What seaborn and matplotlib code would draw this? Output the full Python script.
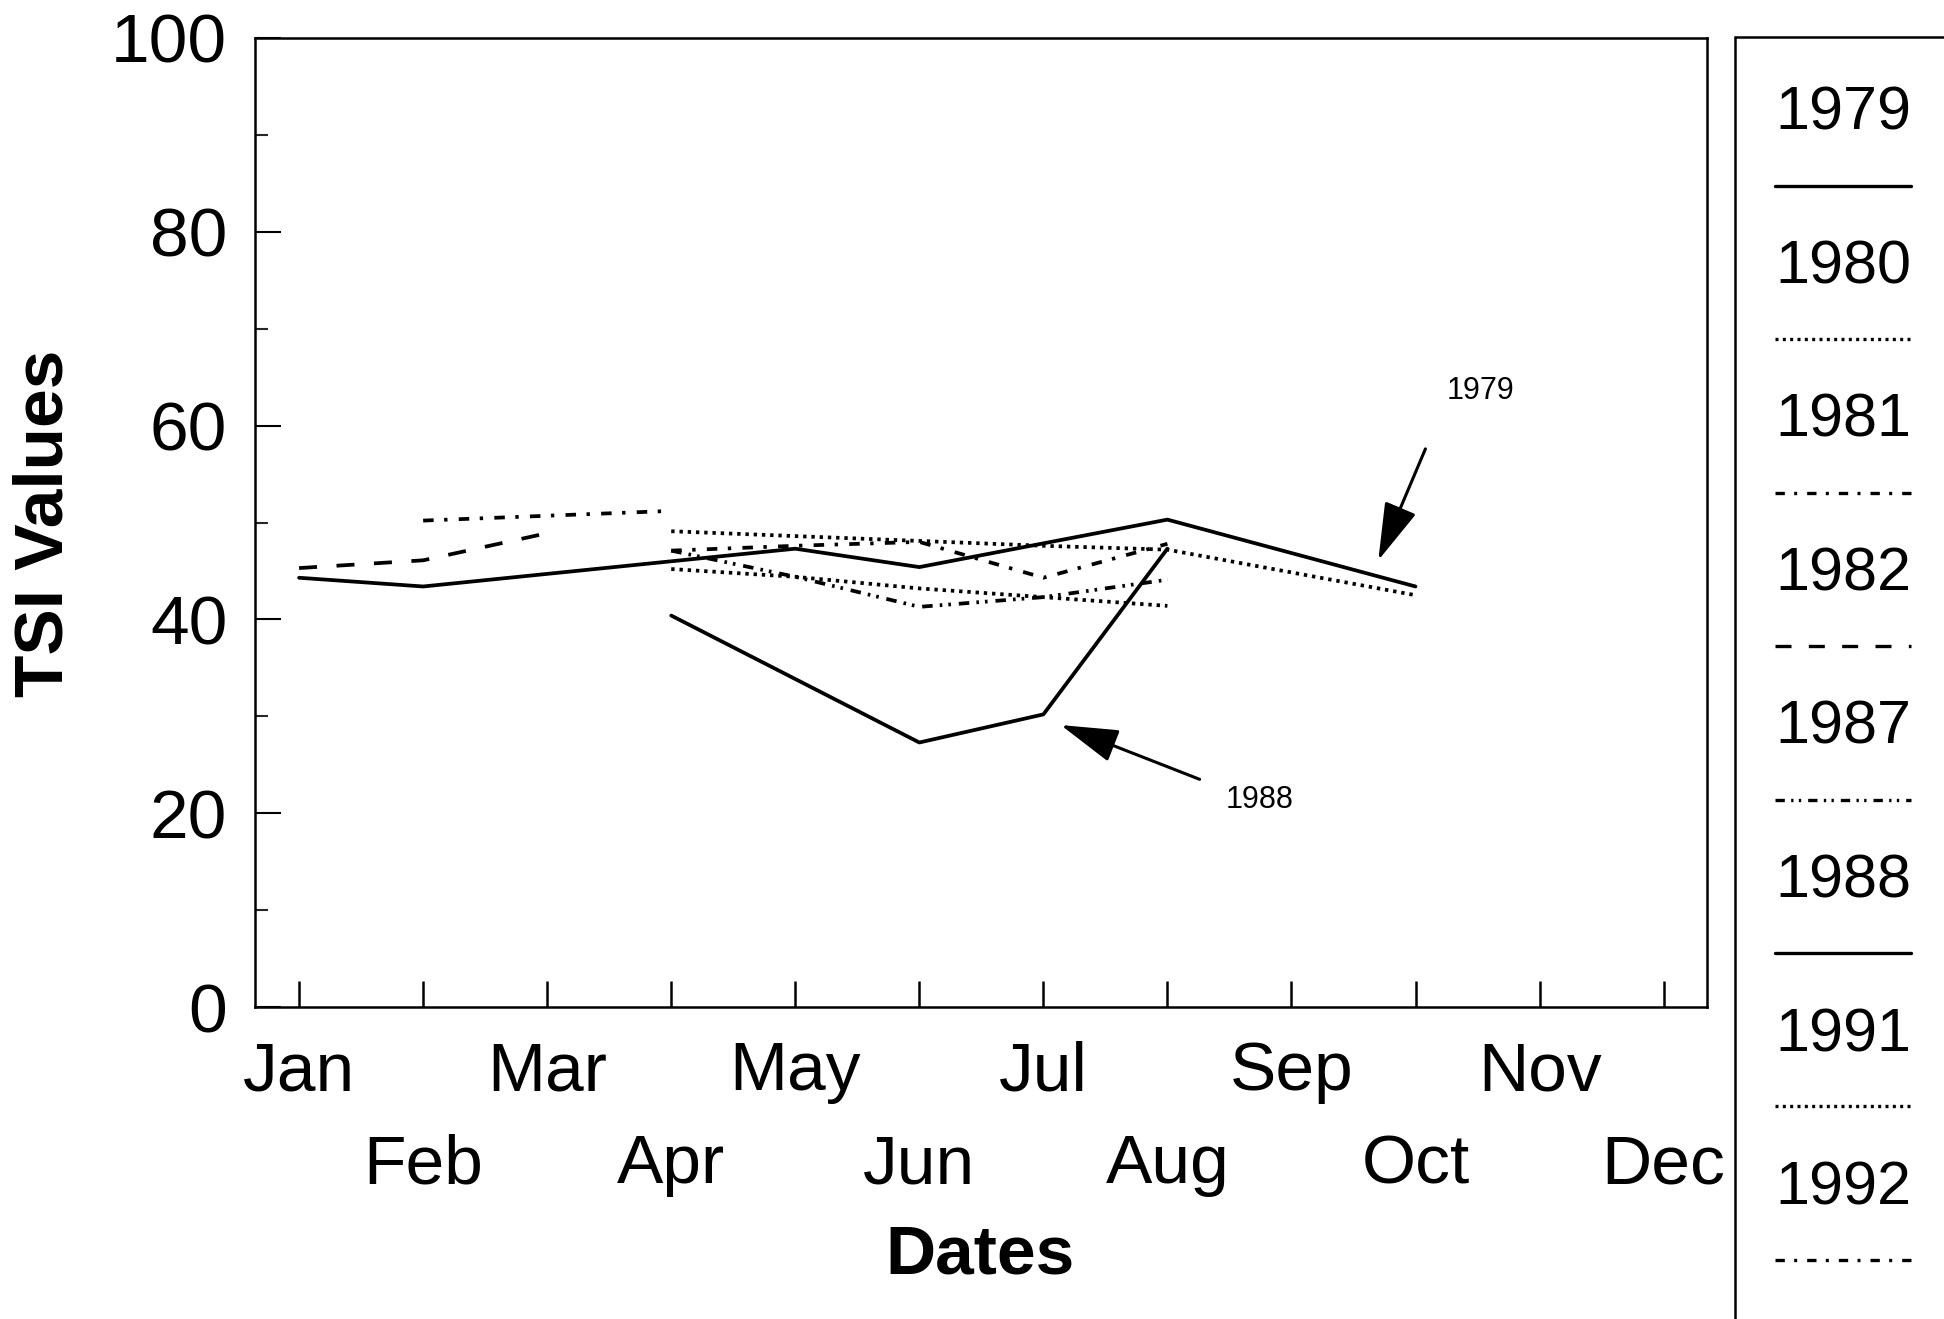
import numpy as np
import pandas as pd
import matplotlib
matplotlib.use("Agg")
import matplotlib.pyplot as plt
from matplotlib.lines import Line2D
import seaborn as sns

# =========================================
# DATA
# =========================================

months = ["Jan", "Feb", "Mar", "Apr", "May", "Jun",
          "Jul", "Aug", "Sep", "Oct", "Nov", "Dec"]

nan = np.nan

tsi_1979 = [44.3, 43.4, nan, nan, 47.3, 45.4, nan, 50.3, nan, 43.4, nan, nan]
tsi_1980 = [nan, nan, nan, 49.1, 48.6, 48.1, 47.6, 47.2, nan, 42.5, nan, nan]
tsi_1981 = [nan, 50.2, 50.7, 51.2, nan, nan, nan, nan, nan, nan, nan, nan]
tsi_1982 = [45.3, 46.1, 48.9, nan, nan, nan, nan, nan, nan, nan, nan, nan]
tsi_1987 = [nan, nan, nan, 47.1, 44.4, 41.3, 42.3, 44.1, nan, nan, nan, nan]
tsi_1988 = [nan, nan, nan, 40.4, nan, 27.3, 30.2, 47.3, nan, nan, nan, nan]
tsi_1991 = [nan, nan, nan, 45.2, 44.4, 43.2, 42.3, 41.4, nan, nan, nan, nan]
tsi_1992 = [nan, nan, nan, 47.1, 47.6, 48.0, 44.3, 47.8, nan, nan, nan, nan]

years = ["1979", "1980", "1981", "1982", "1987", "1988", "1991", "1992"]
series = [tsi_1979, tsi_1980, tsi_1981, tsi_1982,
          tsi_1987, tsi_1988, tsi_1991, tsi_1992]

# line styles per year (dash patterns, scaled by linewidth)
dash_styles = {
    "1979": "",
    "1980": (0.9, 1.3),
    "1981": (2.8, 2.8, 0.9, 3.0),
    "1982": (4.8, 5.2),
    "1987": (2.8, 1.9, 0.7, 1.6, 0.7, 2.1),
    "1988": "",
    "1991": (0.9, 1.3),
    "1992": (2.8, 2.8, 0.9, 3.0),
}

rows = []
for year, vals in zip(years, series):
    for m, v in enumerate(vals, start=1):
        rows.append({"year": year, "month": m, "tsi": v})
df = pd.DataFrame(rows).dropna()

# =========================================
# STYLE
# =========================================

sns.set_style("white")
plt.rcParams["font.family"] = ["Liberation Sans", "DejaVu Sans"]
plt.rcParams["text.color"] = "black"
plt.rcParams["xtick.bottom"] = True
plt.rcParams["ytick.left"] = True

fig = plt.figure(figsize=(19.44, 13.19), dpi=100)
ax = fig.add_axes([0.1312, 0.2365, 0.7469, 0.7347])

# =========================================
# LINES
# =========================================

sns.lineplot(
    data=df,
    x="month",
    y="tsi",
    style="year",
    style_order=years,
    dashes=dash_styles,
    color="black",
    linewidth=2.7,
    errorbar=None,
    legend=False,
    ax=ax
)

# =========================================
# AXES
# =========================================

ax.set_xlim(0.645, 12.35)
ax.set_ylim(0, 100)

ax.set_yticks(range(0, 101, 20))
ax.set_yticks(range(10, 100, 20), minor=True)
ax.set_yticklabels([str(v) for v in range(0, 101, 20)], fontsize=50)

odd = list(range(1, 13, 2))
even = list(range(2, 13, 2))
ax.set_xticks(odd)
ax.set_xticklabels([months[i - 1] for i in odd], fontsize=50)
ax.set_xticks(even, minor=True)
ax.set_xticklabels([months[i - 1] for i in even], minor=True, fontsize=50)

ax.tick_params(axis="y", which="major", direction="in", length=19,
               width=1.5, pad=20, colors="black", left=True)
ax.tick_params(axis="y", which="minor", direction="in", length=9,
               width=1.5, left=True)
ax.tick_params(axis="x", which="major", direction="in", length=19,
               width=1.8, pad=24, colors="black", bottom=True)
ax.tick_params(axis="x", which="minor", direction="in", length=19,
               width=1.8, pad=91, colors="black", bottom=True)

for sp in ax.spines.values():
    sp.set_visible(True)
    sp.set_linewidth(1.8)
    sp.set_color("black")

ax.set_xlabel("")
ax.set_ylabel("")

fig.text(0.504, 0.048, "Dates", fontsize=50, fontweight="bold",
         ha="center", va="center")
fig.text(0.023, 0.603, "TSI Values", fontsize=50, fontweight="bold",
         ha="center", va="center", rotation=90)

# =========================================
# ANNOTATIONS
# =========================================

arrow = dict(arrowstyle="-|>,head_length=1.2,head_width=0.35",
             mutation_scale=30, lw=2.2, color="black",
             shrinkA=0, shrinkB=0)

ax.annotate("", xy=(9.70, 46.1), xytext=(10.08, 57.6), arrowprops=arrow)
ax.text(10.52, 63.6, "1979", fontsize=22, ha="center", va="center")

ax.annotate("", xy=(7.14, 29.1), xytext=(8.26, 23.5), arrowprops=arrow)
ax.text(8.74, 21.4, "1988", fontsize=22, ha="center", va="center")

# =========================================
# LEGEND BOX (separate panel on the right)
# =========================================

W, H = 1944.0, 1319.0
box_left = 1735 / W
box_top = 1 - 37 / H
fig.add_artist(Line2D([box_left, box_left], [0, box_top], color="black",
                      lw=1.8, transform=fig.transFigure))
fig.add_artist(Line2D([box_left, 1.0], [box_top, box_top], color="black",
                      lw=1.8, transform=fig.transFigure))

for i, year in enumerate(years):
    ty = 1 - (114 + i * 153.6) / H
    ly = 1 - (186 + i * 153.4) / H
    fig.text(1843 / W, ty, year, fontsize=44, ha="center", va="center")
    ln = Line2D([1775 / W, 1911 / W], [ly, ly], color="black", lw=2.4,
                transform=fig.transFigure)
    if dash_styles[year]:
        ln.set_dashes(dash_styles[year])
    fig.add_artist(ln)

plt.savefig("out.png", dpi=100)
